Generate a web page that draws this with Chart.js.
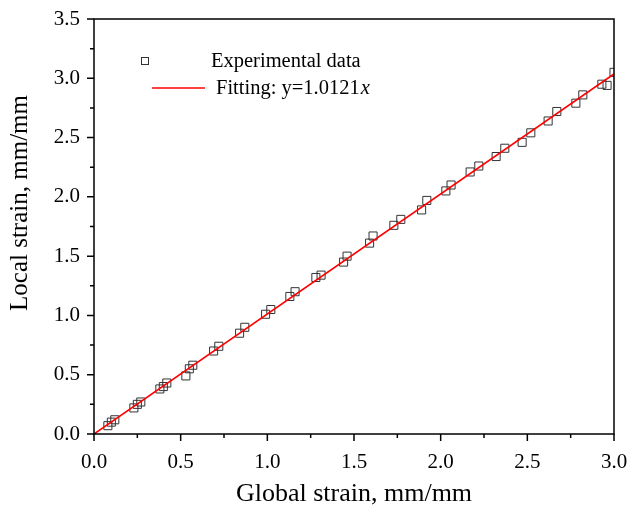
<!DOCTYPE html>
<html>
<head>
<meta charset="utf-8">
<script src="https://cdn.jsdelivr.net/npm/chart.js@4/dist/chart.umd.min.js"></script>
<style>
  html, body { margin: 0; padding: 0; background: #fff; }
  #wrap { width: 631px; height: 514px; }
</style>
</head>
<body>
<div id="wrap"><canvas id="myChart"></canvas></div>
<script>
let globalStrain = [0.08, 0.10, 0.12, 0.23, 0.25, 0.27, 0.38, 0.40, 0.42, 0.53, 0.55, 0.57,
    0.69, 0.72, 0.84, 0.87, 0.99, 1.02, 1.13, 1.16, 1.28, 1.31, 1.44, 1.46, 1.59, 1.61,
    1.73, 1.77, 1.89, 1.92, 2.03, 2.06, 2.17, 2.22, 2.32, 2.37, 2.47, 2.52, 2.62, 2.67,
    2.78, 2.82, 2.93, 2.96, 3.00];
let localStrain = [0.07, 0.10, 0.12, 0.22, 0.25, 0.27, 0.38, 0.40, 0.43, 0.49, 0.55, 0.58,
    0.70, 0.74, 0.85, 0.90, 1.01, 1.05, 1.16, 1.20, 1.32, 1.34, 1.45, 1.50, 1.61, 1.67,
    1.76, 1.81, 1.89, 1.97, 2.05, 2.10, 2.21, 2.26, 2.34, 2.41, 2.46, 2.54, 2.64, 2.72,
    2.79, 2.86, 2.95, 2.94, 3.05];
let fitSlope = 1.0121;
let fitRange = [0, 3.0];

let xTicks = [0, 0.5, 1.0, 1.5, 2.0, 2.5, 3.0];
let yTicks = [0, 0.5, 1.0, 1.5, 2.0, 2.5, 3.0, 3.5];

let serif = "'Liberation Serif', 'Times New Roman', serif";

let scatterData = globalStrain.map((g, i) => ({ x: g, y: localStrain[i] }));
let fitData = fitRange.map(g => ({ x: g, y: fitSlope * g }));

let isMajor = (v) => Math.abs(v / 0.5 - Math.round(v / 0.5)) < 1e-6;

// frame, outward ticks (major + minor), y title and the in-plot legend
let framePlugin = {
    id: 'frame',
    afterDraw(chart) {
        let ctx = chart.ctx;
        let area = chart.chartArea;
        let xs = chart.scales.x;
        let ys = chart.scales.y;
        ctx.save();
        ctx.strokeStyle = '#000';
        ctx.lineWidth = 1.5;
        ctx.strokeRect(area.left, area.top, area.right - area.left, area.bottom - area.top);

        ctx.beginPath();
        xs.ticks.forEach(t => {
            let px = xs.getPixelForValue(t.value);
            let len = isMajor(t.value) ? 7 : 4;
            ctx.moveTo(px, area.bottom);
            ctx.lineTo(px, area.bottom + len);
        });
        ys.ticks.forEach(t => {
            let py = ys.getPixelForValue(t.value);
            let len = isMajor(t.value) ? 7 : 4;
            ctx.moveTo(area.left, py);
            ctx.lineTo(area.left - len, py);
        });
        ctx.stroke();

        // y axis title
        ctx.fillStyle = '#000';
        ctx.save();
        ctx.translate(20, 203);
        ctx.rotate(-Math.PI / 2);
        ctx.textAlign = 'center';
        ctx.textBaseline = 'middle';
        ctx.font = '25px ' + serif;
        ctx.fillText('Local strain, mm/mm', 0, 0);
        ctx.restore();

        // legend
        ctx.textBaseline = 'middle';
        ctx.font = '20.5px ' + serif;
        ctx.strokeStyle = '#333';
        ctx.lineWidth = 1;
        ctx.strokeRect(141.5, 57.5, 7, 7);
        ctx.fillText('Experimental data', 211, 62);

        ctx.strokeStyle = 'rgb(255,0,0)';
        ctx.lineWidth = 1.6;
        ctx.beginPath();
        ctx.moveTo(152, 88);
        ctx.lineTo(205, 88);
        ctx.stroke();
        let label = 'Fitting: y=1.0121';
        ctx.fillText(label, 216, 89);
        let w = ctx.measureText(label).width;
        ctx.font = 'italic 20.5px ' + serif;
        ctx.fillText('x', 216 + w + 1, 89);
        ctx.restore();
    }
};

let ctx = document.getElementById('myChart').getContext('2d');
let myChart = new Chart(ctx, {
    type: 'scatter',
    data: {
        datasets: [
            {
                type: 'line',
                label: 'Fitting',
                data: fitData,
                borderColor: 'rgb(255,0,0)',
                borderWidth: 1.6,
                pointRadius: 0,
                fill: false,
                tension: 0
            },
            {
                label: 'Experimental data',
                data: scatterData,
                pointStyle: 'rect',
                pointRadius: 5.7,
                pointBorderColor: '#333',
                pointBackgroundColor: 'rgba(0,0,0,0)',
                pointBorderWidth: 1
            }
        ]
    },
    options: {
        responsive: true,
        maintainAspectRatio: false,
        animation: false,
        layout: { padding: { top: 19, right: 0, left: 0, bottom: 0 } },
        plugins: {
            legend: { display: false },
            tooltip: { enabled: false }
        },
        scales: {
            x: {
                type: 'linear',
                min: xTicks[0],
                max: xTicks[xTicks.length - 1],
                grid: { display: true, drawOnChartArea: false, drawTicks: false },
                border: { display: false },
                ticks: {
                    stepSize: 0.25,
                    autoSkip: false,
                    maxRotation: 0,
                    padding: 16,
                    color: '#000',
                    font: { family: serif, size: 21 },
                    callback: (v) => xTicks.some(t => Math.abs(t - v) < 1e-6) ? v.toFixed(1) : ''
                },
                title: {
                    display: true,
                    text: 'Global strain, mm/mm',
                    color: '#000',
                    font: { family: serif, size: 26 },
                    padding: { top: 13 }
                },
                afterFit: (scale) => { scale.height = 80; scale.paddingRight = 17; }
            },
            y: {
                type: 'linear',
                min: yTicks[0],
                max: yTicks[yTicks.length - 1],
                grid: { display: true, drawOnChartArea: false, drawTicks: false },
                border: { display: false },
                ticks: {
                    stepSize: 0.25,
                    autoSkip: false,
                    padding: 14,
                    color: '#000',
                    font: { family: serif, size: 21 },
                    callback: (v) => yTicks.some(t => Math.abs(t - v) < 1e-6) ? v.toFixed(1) : ''
                },
                title: { display: false },
                afterFit: (scale) => { scale.width = 94; scale.paddingTop = 0; scale.paddingBottom = 0; }
            }
        }
    },
    plugins: [framePlugin]
});
</script>
</body>
</html>
